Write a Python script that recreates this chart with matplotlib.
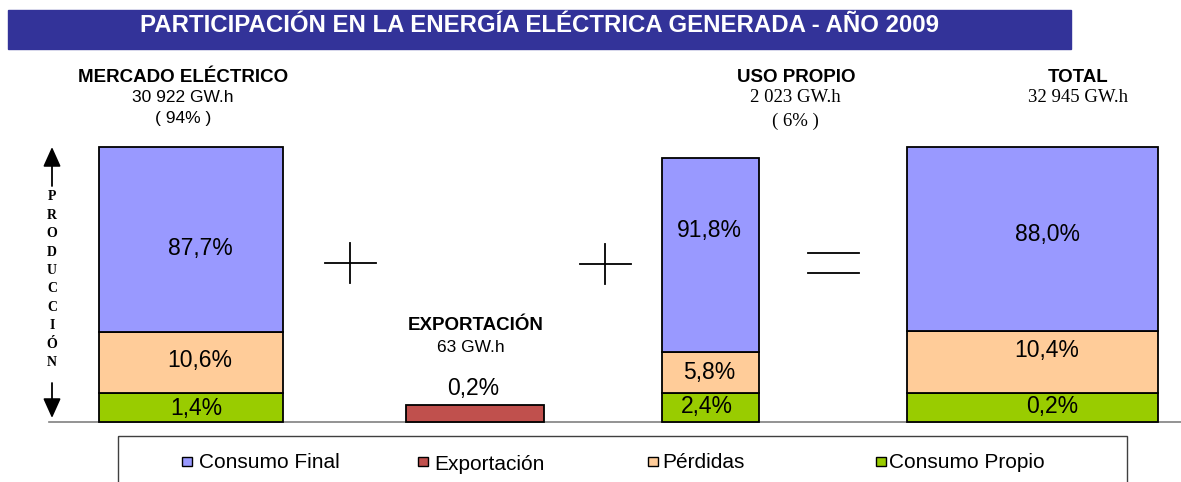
import matplotlib
matplotlib.use('Agg')
from matplotlib import pyplot as plt
from matplotlib.patches import Rectangle

# data
groups = ['MERCADO ELÉCTRICO', 'EXPORTACIÓN', 'USO PROPIO', 'TOTAL']
gwh = ['30 922 GW.h', '63 GW.h', '2 023 GW.h', '32 945 GW.h']
shares = ['( 94% )', '', '( 6% )', '']
consumo_final = [87.7, None, 91.8, 88.0]
perdidas = [10.6, None, 5.8, 10.4]
consumo_propio = [1.4, None, 2.4, 0.2]
exportacion = [None, 0.2, None, None]
legend_labels = ['Consumo Final', 'Exportación', 'Pérdidas', 'Consumo Propio']

c_final = '#9999ff'
c_exp = '#c0504d'
c_perd = '#ffcc99'
c_prop = '#99cc00'

SANS = 'Liberation Sans'
SERIF = 'Liberation Serif'

def pct(v):
  return ('%.1f%%' % v).replace('.', ',')

# schematic layout (pixels): bars are not drawn to scale in the original
base = 422
bar_x = [99, 406, 662, 907]
bar_w = [184, 138, 97, 251]
seg_h = {'prop': [29, None, 29, 29], 'perd': [61, None, 41, 62],
         'final': [185, None, 194, 184], 'exp': [None, 17, None, None]}
# label anchor positions
lbl_x = [200, 473, 709, 1047]
lbl_y = {'final': [248, None, 230, 235], 'perd': [361, None, 373, 350],
         'prop': [408, None, 407, 406], 'exp': [None, 388, None, None]}
prop_dx = [-4, 0, -2, 5]

fig = plt.figure(figsize=(11.81, 4.82), dpi=100)
ax = fig.add_axes([0, 0, 1, 1])
ax.set_xlim(0, 1181)
ax.set_ylim(482, 0)
ax.axis('off')

# title band
ax.add_patch(Rectangle((8, 10), 1063, 39, color='#333399', zorder=1))
ax.text(540, 26, 'PARTICIPACIÓN EN LA ENERGÍA ELÉCTRICA GENERADA - AÑO 2009',
        color='white', fontsize=17.3, fontweight='bold', family=SANS,
        ha='center', va='center', zorder=2)

# baseline
ax.plot([49, 1181], [base, base], color='#808080', lw=1.2, zorder=1)

# stacked bars
LS = 16.5
for i in range(len(groups)):
  cx = bar_x[i] + bar_w[i] / 2.0
  if exportacion[i] is not None:
    h = seg_h['exp'][i]
    ax.bar(cx, h, width=bar_w[i], bottom=base - h, color=c_exp,
           edgecolor='black', lw=1.3, zorder=3)
    ax.text(lbl_x[i], lbl_y['exp'][i], pct(exportacion[i]), fontsize=LS,
            family=SANS, ha='center', va='center')
    continue
  bottom = base
  for key, vals, col in [('prop', consumo_propio, c_prop),
                         ('perd', perdidas, c_perd),
                         ('final', consumo_final, c_final)]:
    h = seg_h[key][i]
    ax.bar(cx, h, width=bar_w[i], bottom=bottom - h, color=col,
           edgecolor='black', lw=1.3, zorder=3)
    tx = lbl_x[i] + (prop_dx[i] if key == 'prop' else 0)
    ax.text(tx, lbl_y[key][i], pct(vals[i]), fontsize=LS, family=SANS,
            ha='center', va='center', zorder=4)
    bottom -= h

# headers
HB = 13.5
HS = 12.5
ax.text(183, 77, groups[0], fontsize=HB, fontweight='bold', family=SANS,
        ha='center', va='center')
ax.text(183, 98, gwh[0], fontsize=HS, family=SANS, ha='center', va='center')
ax.text(183, 119, shares[0], fontsize=HS, family=SANS, ha='center', va='center')

ax.text(476, 325, groups[1], fontsize=HB, fontweight='bold', family=SANS,
        ha='center', va='center')
ax.text(471, 347, gwh[1], fontsize=HS, family=SANS, ha='center', va='center')

ax.text(796, 77, groups[2], fontsize=HB, fontweight='bold', family=SANS,
        ha='center', va='center')
ax.text(795, 98, gwh[2], fontsize=13.5, family=SERIF, ha='center', va='center')
ax.text(795, 121, shares[2], fontsize=13.5, family=SERIF, ha='center', va='center')

ax.text(1078, 77, groups[3], fontsize=HB, fontweight='bold', family=SANS,
        ha='center', va='center')
ax.text(1078, 98, gwh[3], fontsize=13.5, family=SERIF, ha='center', va='center')

# plus and equals signs
for px, py in [(350, 263), (605, 264)]:
  ax.plot([px - 25, px + 26], [py, py], color='black', lw=1.3)
  ax.plot([px, px], [py - 20, py + 20], color='black', lw=1.3)
for ey in [253, 273]:
  ax.plot([808, 859], [ey, ey], color='black', lw=1.3)

# vertical PRODUCCIÓN axis with arrows
arr = dict(arrowstyle='-|>,head_length=0.6,head_width=0.27',
           mutation_scale=20, lw=1.3, color='black', shrinkA=0, shrinkB=0)
ax.annotate('', xy=(52, 147), xytext=(52, 186), arrowprops=arr)
ax.annotate('', xy=(52, 418), xytext=(52, 383), arrowprops=arr)
for k, ch in enumerate('PRODUCCIÓN'):
  ax.text(52, 197 + k * 18.4, ch, fontsize=10, fontweight='bold', family=SERIF,
          ha='center', va='center')

# legend box
ax.add_patch(Rectangle((118, 436), 1009, 60, fill=False, edgecolor='#404040',
                       lw=1.0, clip_on=True))
leg_sq = [182, 418, 648, 876]
leg_tx = [199, 434, 662, 889]
leg_dy = [0, 2, 0, 0]
leg_col = [c_final, c_exp, c_perd, c_prop]
for i in range(len(legend_labels)):
  ax.add_patch(Rectangle((leg_sq[i], 457), 10, 9, facecolor=leg_col[i],
                         edgecolor='black', lw=1.0))
  ax.text(leg_tx[i], 462 + leg_dy[i], legend_labels[i], fontsize=15, family=SANS,
          ha='left', va='center')

plt.savefig('out.png', dpi=100)
